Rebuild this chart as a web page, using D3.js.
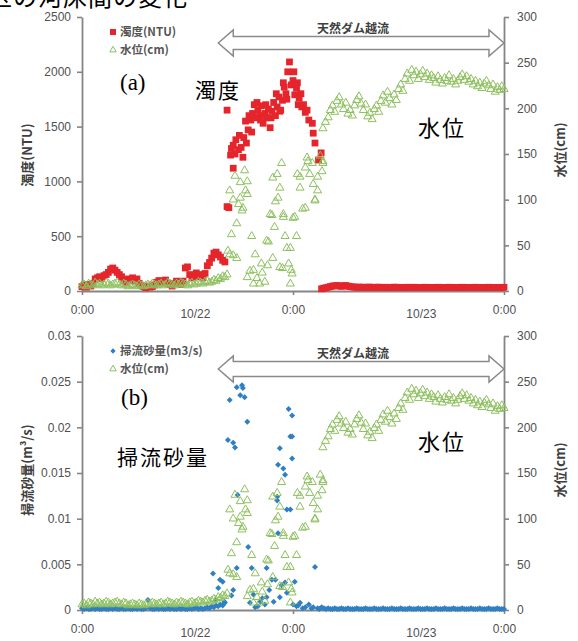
<!DOCTYPE html>
<html>
<head>
<meta charset="utf-8">
<script src="https://cdn.jsdelivr.net/npm/d3@7"></script>
<style>
body { margin: 0; background: #fff; }
svg { display: block; }
</style>
</head>
<body>
<svg id="chart" width="578" height="641"></svg>
<script>
const svg = d3.select("#chart");

// x axis: hours since the first 0:00
const xTickHours = [0, 24, 48];
const dateLabelHours = [12.9, 38.6];
const dateLabels = ["10/22", "10/23"];
const turbTicks = [0, 500, 1000, 1500, 2000, 2500];
const bedTicks = [0, 0.005, 0.01, 0.015, 0.02, 0.025, 0.03];
const levelTicks = [0, 50, 100, 150, 200, 250, 300];
const overflowHours = [15.5, 48];

// regular logger readings every 15 min
const stepH = 0.25;
const earlyStartH = 0;
const turbEarly = [
  40,55,35,60,45,70,110,120,130,115,
  140,150,170,200,210,190,170,150,130,100,
  80,110,100,120,90,110,70,50,40,30,
  45,35,40,55,80,95,90,80,100,70,
  60,45,70,90,80,60,90,210,220,150,
  120,140,165,130,150,120,160,230,260,300,
  345,355,330,310,280,265];
const levelEarly = [
  6,7,5,8,7,6,9,7,8,6,
  7,9,8,6,7,8,9,7,6,8,
  7,5,6,7,6,5,7,6,5,6,
  7,6,8,7,6,7,8,6,7,9,
  8,7,6,8,7,9,8,7,6,8,
  9,7,8,10,9,8,10,11,9,10,
  12,11,14,13,16,15];
const bedEarly = [
  0.0002,0.0001,0.0002,0.0001,0.0001,0.0002,0.0001,0.0002,0.0001,0.0001,
  0.0002,0.0001,0.0001,0.0002,0.0001,0.0002,0.0001,0.0001,0.0002,0.0001,
  0.0001,0.0002,0.0001,0.0001,0.0002,0.0001,0.0002,0.0001,0.0001,0.0002,
  0.0011,0.0002,0.0001,0.0001,0.0002,0.0001,0.0002,0.0001,0.0001,0.0002,
  0.0001,0.0002,0.0001,0.0001,0.0002,0.0001,0.0002,0.0001,0.0001,0.0002,
  0.0001,0.0002,0.0003,0.0001,0.0002,0.0001,0.0002,0.0003,0.0002,0.0004,
  0.0003,0.0005,0.0004,0.0006,0.0005,0.0008];

// flood period, irregular readings [hour, value]
const turbMid = [
  [16.5,770],[16.7,760],[16.5,1650],[16.9,1240],[17.0,1300],[17.2,1120],[17.2,1330],
  [17.4,1250],[17.5,1380],[17.8,1290],[17.9,1420],[18.1,1310],[18.3,1220],[18.4,1400],
  [18.6,1550],[18.7,1350],[18.9,1470],[19.0,1600],[19.2,1560],[19.3,1450],[19.4,1620],
  [19.6,1700],[19.8,1580],[19.9,1720],[20.0,1650],[20.2,1600],[20.3,1560],[20.4,1690],
  [20.6,1530],[20.8,1620],[20.9,1700],[21.0,1580],[21.2,1660],[21.4,1490],[21.5,1580],
  [21.6,1640],[21.8,1720],[22.0,1600],[22.1,1800],[22.2,1680],[22.4,1770],[22.5,1640],
  [22.6,1650],[22.8,1740],[22.9,1900],[23.0,1860],[23.2,1800],[23.3,1750],[23.4,2000],
  [23.6,2090],[23.8,1880],[24.0,1920],[24.1,2000],[24.2,1790],[24.4,1850],[24.5,1900],
  [24.6,1700],[24.7,1760],[24.9,1800],[25.0,1680],[25.2,1700],[25.4,1630],[25.6,1650],
  [25.8,1560],[26.2,1530],[26.3,1440],[26.5,1350],[26.9,1195],[27.2,1260]];
const levelMid = [
  [16.5,18],[16.6,44],[16.8,110],[16.8,40],[17.0,62],[17.2,100],[17.2,39],[17.4,126],
  [17.6,74],[17.6,36],[17.8,95],[18.0,119],[18.0,102],[18.2,88],[18.3,91],[18.5,132],
  [18.6,110],[18.8,120],[18.8,106],[18.8,15],[19.1,22],[19.3,60],[19.5,8],[19.5,23],
  [19.7,40],[19.9,14],[20.2,8],[20.4,30],[20.5,20],[20.8,10],[21.0,55],[21.1,28],
  [21.2,54],[21.4,84],[21.6,83],[21.7,36],[21.7,124],[21.9,70],[22.0,98],[22.2,128],
  [22.3,102],[22.5,113],[22.5,26],[22.7,140],[22.8,25],[22.9,84],[22.9,81],[23.1,60],
  [23.3,47],[23.5,30],[23.7,8],[23.7,47],[23.8,23],[23.9,19],[24.0,80],[24.2,81],
  [24.4,60],[24.5,128],[24.8,113],[24.8,125],[25.1,90],[25.4,91],[25.4,135],[25.6,146],
  [25.7,142],[25.9,128],[26.2,140],[26.3,117],[26.5,100],[26.5,99],[26.8,110],[26.8,125],
  [27.1,148],[27.3,131],[27.4,140],[27.4,142],[27.4,178],[27.7,185]];
const bedMid = [
  [14.9,0.004],[15.2,0.0011],[15.5,0.0024],[15.7,0.0033],[16.0,0.0031],[16.2,0.0009],
  [16.6,0.0186],[16.8,0.023],[17.0,0.0016],[17.2,0.0183],[17.2,0.0022],[17.4,0.0178],
  [17.6,0.0244],[17.6,0.0046],[17.7,0.0126],[18.0,0.0235],[18.2,0.0246],[18.3,0.0243],
  [18.5,0.0233],[18.8,0.0206],[18.9,0.0069],[19.1,0.0008],[19.3,0.0046],[19.5,0.0017],
  [19.7,0.0003],[20.0,0.0004],[20.3,0.0009],[20.5,0.0013],[20.8,0.0006],[21.0,0.0046],
  [21.0,0.0014],[21.3,0.0022],[21.6,0.0033],[21.8,0.0009],[22.0,0.0033],[22.2,0.012],
  [22.2,0.0124],[22.3,0.0084],[22.3,0.0159],[22.5,0.0177],[22.5,0.0014],[22.7,0.0027],
  [22.9,0.0155],[23.1,0.0148],[23.1,0.003],[23.3,0.011],[23.3,0.0019],[23.5,0.022],
  [23.7,0.019],[23.7,0.011],[23.9,0.0213],[23.9,0.019],[23.9,0.0166],[24.0,0.0006],
  [24.2,0.0031],[24.4,0.0004],[24.6,0.0005],[24.8,0.0008],[25.1,0.0002],[25.4,0.0003],
  [25.8,0.0006],[26.1,0.0002],[26.3,0.0003],[26.5,0.0047],[26.8,0.0002],[27.0,0.0001]];

const turbLateStartH = 27.25;
const turbLate = [
  20,25,30,35,40,45,48,50,46,42,
  48,50,44,40,38,35,34,36,33,35,
  32,34,36,33,31,34,35,32,33,34,
  32,31,33,35,34,32,33,31,32,34,
  33,32,34,33,31,32,33,34,32,33,
  31,32,33,34,32,31,33,32,34,33,
  32,33,31,32,34,33,32,31,33,32,
  34,33,32,31,33,32,34,33,32,33,
  31,32,33,34];
const levelLateStartH = 28;
const levelLate = [
  190,198,203,196,208,212,204,199,206,194,
  198,192,203,209,213,205,198,204,191,195,
  188,199,203,196,208,214,206,218,211,204,
  215,209,221,226,219,232,238,230,242,236,
  240,232,237,241,234,238,231,236,233,228,
  235,231,227,233,230,236,229,232,226,230,
  234,237,231,235,229,232,226,230,224,228,
  222,227,230,225,221,226,218,223,220,224,
  221];
const bedLateStartH = 27.25;
const bedLate = [
  0.0003,0.0002,0.0001,0.0002,0.0001,0.0001,0.0002,0.0001,0.0001,0.0002,
  0.0001,0.0001,0.0002,0.0001,0.0001,0.0001,0.0002,0.0001,0.0001,0.0001,
  0.0002,0.0001,0.0001,0.0001,0.0002,0.0001,0.0001,0.0001,0.0002,0.0001,
  0.0001,0.0001,0.0002,0.0001,0.0001,0.0001,0.0002,0.0001,0.0001,0.0001,
  0.0002,0.0001,0.0001,0.0001,0.0002,0.0001,0.0001,0.0001,0.0002,0.0001,
  0.0001,0.0001,0.0002,0.0001,0.0001,0.0001,0.0002,0.0001,0.0001,0.0001,
  0.0002,0.0001,0.0001,0.0001,0.0002,0.0001,0.0001,0.0001,0.0002,0.0001,
  0.0001,0.0001,0.0002,0.0001,0.0001,0.0001,0.0002,0.0001,0.0001,0.0001,
  0.0002,0.0001,0.0001,0.0001];

const stamp = (start, vals) => vals.map((v, i) => [start + i * stepH, v]);
const turbidity = stamp(earlyStartH, turbEarly).concat(turbMid, stamp(turbLateStartH, turbLate));
const waterLevel = stamp(earlyStartH, levelEarly).concat(levelMid, stamp(levelLateStartH, levelLate));
const bedload = stamp(earlyStartH, bedEarly).concat(bedMid, stamp(bedLateStartH, bedLate));

const red = "#e5252b", green = "#8dc05e", blue = "#2f7fc3";
const axisGray = "#858585", labelGray = "#505050";
const sansFont = "'Liberation Sans', Arial, sans-serif";
const jpFont = "'Noto Sans CJK JP', sans-serif";
const serifFont = "'Liberation Serif', 'Noto Sans CJK JP', serif";

const x = d3.scaleLinear().domain([0, 48]).range([82, 504]);

// page heading, cut off by the top edge as in the scan
svg.append("text")
  .attr("x", -12).attr("y", 6)
  .attr("font-family", serifFont).attr("font-size", 24)
  .attr("letter-spacing", 1)
  .text("区の河床間の変化");

const panels = [
  { top: 17, bottom: 291, leftMax: 2500, leftTicks: turbTicks, data: turbidity, kind: "turb",
    leftTitle: "濁度(NTU)", titleY: 155, rightTitleY: 150,
    legend: ["濁度(NTU)", "水位(cm)"], legendY: 32,
    arrowY: 43, arrowHalf: 6.5, arrowLabelY: 33,
    letter: "(a)", letterPos: [120, 90],
    mainLabel: "濁度", mainPos: [195, 98], levelLabelPos: [418, 136] },
  { top: 336, bottom: 610, leftMax: 0.03, leftTicks: bedTicks, data: bedload, kind: "bed",
    leftTitle: "掃流砂量(m³/s)", titleY: 470, rightTitleY: 470,
    legend: ["掃流砂量(m3/s)", "水位(cm)"], legendY: 351,
    arrowY: 369, arrowHalf: 7.5, arrowLabelY: 358,
    letter: "(b)", letterPos: [121, 405],
    mainLabel: "掃流砂量", mainPos: [117, 465], levelLabelPos: [418, 450] }
];

const squareSym = d3.symbol(d3.symbolSquare, 46);
const triSym = d3.symbol(d3.symbolTriangle, 28);
const diaSym = d3.symbol(d3.symbolSquare, 18);

function styleAxis(g) {
  g.select(".domain").attr("stroke", axisGray).attr("stroke-width", 1.8);
  g.selectAll(".tick line").attr("stroke", axisGray).attr("stroke-width", 1.6);
  g.selectAll(".tick text").attr("fill", labelGray)
    .attr("font-family", sansFont).attr("font-size", 12);
}

panels.forEach(p => {
  const yL = d3.scaleLinear().domain([0, p.leftMax]).range([p.bottom, p.top]);
  const yR = d3.scaleLinear().domain([0, 300]).range([p.bottom, p.top]);
  const g = svg.append("g");

  // axes
  g.append("g").attr("transform", `translate(${x(0)},0)`)
    .call(d3.axisLeft(yL).tickValues(p.leftTicks).tickSize(5).tickSizeOuter(0)
      .tickPadding(6).tickFormat(d => String(d)))
    .call(styleAxis);
  g.append("g").attr("transform", `translate(${x(48)},0)`)
    .call(d3.axisRight(yR).tickValues(levelTicks).tickSize(5).tickSizeOuter(0).tickPadding(8))
    .call(styleAxis);
  g.append("g").attr("transform", `translate(0,${p.bottom})`)
    .call(d3.axisBottom(x).tickValues(xTickHours).tickSize(4).tickSizeOuter(0)
      .tickPadding(10).tickFormat(() => "0:00"))
    .call(styleAxis);
  g.selectAll(".datelab").data(dateLabelHours).enter().append("text")
    .attr("x", d => x(d)).attr("y", p.bottom + 27)
    .attr("text-anchor", "middle").attr("fill", labelGray)
    .attr("font-family", sansFont).attr("font-size", 12)
    .text((d, i) => dateLabels[i]);

  // axis titles
  g.append("text")
    .attr("transform", `translate(32,${p.titleY}) rotate(-90)`)
    .attr("text-anchor", "middle").attr("fill", "#404040")
    .attr("font-family", jpFont).attr("font-size", 13).attr("font-weight", 600)
    .text(p.leftTitle);
  g.append("text")
    .attr("transform", `translate(565,${p.rightTitleY}) rotate(-90)`)
    .attr("text-anchor", "middle").attr("fill", "#404040")
    .attr("font-family", jpFont).attr("font-size", 13).attr("font-weight", 600)
    .text("水位(cm)");

  // overflow arrow
  const x1 = x(overflowHours[0]), x2 = x(overflowHours[1]);
  const yc = p.arrowY, sh = p.arrowHalf, hh = 13, hl = 15;
  const pts = [[x1, yc], [x1 + hl, yc - hh], [x1 + hl, yc - sh], [x2 - hl, yc - sh], [x2 - hl, yc - hh],
    [x2, yc], [x2 - hl, yc + hh], [x2 - hl, yc + sh], [x1 + hl, yc + sh], [x1 + hl, yc + hh]];
  g.append("path").attr("d", d3.line()(pts) + "Z")
    .attr("fill", "#fff").attr("stroke", "#8a8a8a").attr("stroke-width", 1.5);
  g.append("text").attr("x", 353).attr("y", p.arrowLabelY)
    .attr("text-anchor", "middle").attr("fill", "#404040")
    .attr("font-family", jpFont).attr("font-size", 12).attr("font-weight", 700)
    .text("天然ダム越流");

  // markers: first series, then water level on top
  if (p.kind === "turb") {
    g.selectAll(".turb").data(p.data).enter().append("path")
      .attr("d", squareSym).attr("fill", red)
      .attr("transform", d => `translate(${x(d[0])},${yL(d[1])})`);
  } else {
    g.selectAll(".bed").data(p.data).enter().append("path")
      .attr("d", diaSym).attr("fill", blue)
      .attr("transform", d => `translate(${x(d[0])},${yL(d[1])}) rotate(45)`);
  }
  g.selectAll(".lvl").data(waterLevel).enter().append("path")
    .attr("d", triSym).attr("fill", "none").attr("stroke", green).attr("stroke-width", 1)
    .attr("transform", d => `translate(${x(d[0])},${yR(d[1])})`);

  // legend
  const lg = g.append("g");
  if (p.kind === "turb") {
    lg.append("path").attr("d", d3.symbol(d3.symbolSquare, 36)).attr("fill", red)
      .attr("transform", `translate(113,${p.legendY})`);
  } else {
    lg.append("path").attr("d", d3.symbol(d3.symbolSquare, 14)).attr("fill", blue)
      .attr("transform", `translate(113,${p.legendY}) rotate(45)`);
  }
  lg.append("path").attr("d", d3.symbol(d3.symbolTriangle, 18))
    .attr("fill", "none").attr("stroke", green)
    .attr("transform", `translate(113,${p.legendY + 18})`);
  p.legend.forEach((t, i) => {
    lg.append("text").attr("x", 120).attr("y", p.legendY + i * 18 + 4)
      .attr("fill", "#555").attr("font-family", jpFont).attr("font-size", 11.5)
      .attr("font-weight", 600).text(t);
  });

  // annotations
  g.append("text").attr("x", p.letterPos[0]).attr("y", p.letterPos[1])
    .attr("font-family", serifFont).attr("font-size", 23).text(p.letter);
  g.append("text").attr("x", p.mainPos[0]).attr("y", p.mainPos[1])
    .attr("font-family", serifFont).attr("font-size", 21).attr("letter-spacing", 2)
    .text(p.mainLabel);
  g.append("text").attr("x", p.levelLabelPos[0]).attr("y", p.levelLabelPos[1])
    .attr("font-family", serifFont).attr("font-size", 22).attr("letter-spacing", 2)
    .text("水位");
});
</script>
</body>
</html>
